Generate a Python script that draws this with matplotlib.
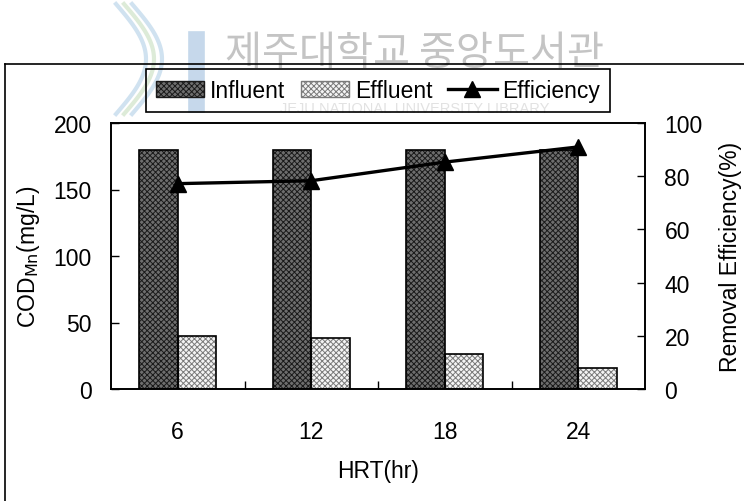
import numpy as np
import matplotlib
matplotlib.use("Agg")
import matplotlib.pyplot as plt
from matplotlib.patches import Patch
from matplotlib.lines import Line2D

# datos
hrt = ["6", "12", "18", "24"]
influent = [180, 180, 180, 180]
effluent = [40, 38, 26, 15.5]
efficiency = [77.2, 78.3, 85.3, 91.0]

plt.rcParams['font.family'] = ['Liberation Sans', 'DejaVu Sans']
plt.rcParams['hatch.linewidth'] = 0.7

fig = plt.figure(figsize=(7.44, 5.02), dpi=100)
ax = fig.add_axes([111/744, 1 - 390/502, 534/744, 266/502])
ax2 = ax.twinx()

x = np.arange(len(hrt))
w = 0.29
fs = 16.5

# Influent: gris oscuro con trama
ax.bar(x - w/2, influent, w, color='#6e6e6e', hatch='xxxxxx', edgecolor='#1a1a1a', linewidth=0, zorder=2)
ax.bar(x - w/2, influent, w, fill=False, edgecolor='black', linewidth=1.2, zorder=3)
# Effluent: trama clara
ax.bar(x + w/2, effluent, w, color='#f4f4f4', hatch='xxxxxx', edgecolor='#7a7a7a', linewidth=0, zorder=2)
ax.bar(x + w/2, effluent, w, fill=False, edgecolor='black', linewidth=1.2, zorder=3)

ax2.plot(x, efficiency, color='black', linewidth=2.4, marker='^', markersize=12, zorder=4)

ax.set_xlim(-0.5, len(hrt) - 0.5)
ax.set_ylim(0, 200)
ax.set_yticks([0, 50, 100, 150, 200])
ax2.set_ylim(0, 100)
ax2.set_yticks([0, 20, 40, 60, 80, 100])

ax.set_xticks(x)
ax.set_xticklabels(hrt)
ax.set_xticks(x[:-1] + 0.5, minor=True)
ax.tick_params(axis='x', which='major', length=0, pad=22, labelsize=fs)
ax.tick_params(axis='x', which='minor', direction='in', length=6, width=1)
ax.tick_params(axis='y', direction='in', length=6, width=1, labelsize=fs, pad=14)
ax2.tick_params(axis='y', direction='in', length=6, width=1, labelsize=fs, pad=14)

for a in (ax, ax2):
    for s in a.spines.values():
        s.set_linewidth(1.2)

ax.set_xlabel('HRT(hr)', fontsize=fs, labelpad=12)
ax.set_ylabel('COD$_{\\mathrm{Mn}}$(mg/L)', fontsize=fs, labelpad=8)
ax2.set_ylabel('Removal Efficiency(%)', fontsize=fs, labelpad=12)

# leyenda
handles = [
    Patch(facecolor='#6e6e6e', hatch='xxxxxx', edgecolor='#1a1a1a', linewidth=1),
    Patch(facecolor='#f4f4f4', hatch='xxxxxx', edgecolor='#7a7a7a', linewidth=1),
    Line2D([], [], color='black', linewidth=2.4, marker='^', markersize=12),
]
leg = fig.legend(handles, ['Influent', 'Effluent', 'Efficiency'], ncol=3,
                 loc='center', bbox_to_anchor=(378/744, 1 - 91.5/502), fontsize=fs,
                 frameon=True, fancybox=False, edgecolor='black', facecolor='none',
                 framealpha=1, handlelength=2.1, handleheight=0.7, handletextpad=0.25,
                 columnspacing=0.7, borderpad=0.45, borderaxespad=0)
leg.get_frame().set_linewidth(1.2)

# marca de agua
fig.text(415/744, 1 - 54/502, '제주대학교 중앙도서관', family=['Noto Sans CJK KR', 'DejaVu Sans'],
         fontsize=29, color='#c4c4c4', ha='center', va='center', zorder=0)
fig.text(415/744, 1 - 109/502, 'JEJU NATIONAL UNIVERSITY LIBRARY', fontsize=10.5,
         color='#e2e2e2', ha='center', va='center', zorder=0)
t = np.linspace(0, 1, 50)
for dx, col in [(0, '#bcd6ea'), (8, '#cfe3c8'), (16, '#bcd6ea')]:
    xs = (116 + dx + 30 * np.sin(np.pi * t)) / 744
    ys = 1 - (5 + 110 * t) / 502
    fig.add_artist(Line2D(xs, ys, color=col, linewidth=3, alpha=0.7, zorder=0))
fig.add_artist(Line2D([196/744, 196/744], [1 - 40/502, 1 - 105/502], color='#b8cfe6',
                      linewidth=12, alpha=0.8, zorder=0))

# marco exterior
fig.add_artist(Line2D([5/744, 5/744], [0, 1 - 65/502], color='black', linewidth=1.2))
fig.add_artist(Line2D([5/744, 1], [1 - 65/502, 1 - 65/502], color='black', linewidth=1.2))

fig.savefig('out.png', dpi=100)
